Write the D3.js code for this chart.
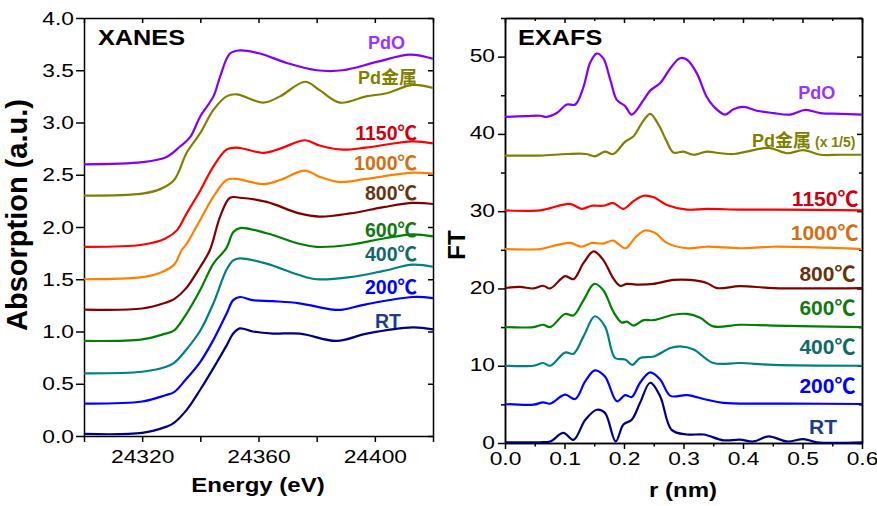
<!DOCTYPE html>
<head>
  <meta charset="utf-8">
  <script src="https://d3js.org/d3.v7.min.js"></script>
  <style>
    body { margin:0; background:#fff; }
    text { font-family: "Liberation Sans", Arial, "Noto Sans CJK SC", sans-serif; }
  </style>
</head>
<body>
<script>

// XANES spectra, [energy (eV), absorption] (offsets included)
var xanesRT = [[24300,0.02],[24320,0.03],[24328.4,0.09],[24330.7,0.12],[24335.3,0.25],[24339.9,0.44],[24344.5,0.65],[24349.1,0.87],[24351.3,0.98],[24353.6,1.03],[24358,1.00],[24365,0.98],[24374.3,0.98],[24386.9,0.91],[24397.2,0.98],[24413,1.04],[24420,1.02]];
var xanes200 = [[24300,0.31],[24320,0.33],[24328,0.39],[24331,0.42],[24335,0.54],[24340,0.71],[24344.5,0.92],[24349,1.17],[24351.3,1.30],[24353.6,1.33],[24358,1.30],[24365,1.29],[24374,1.27],[24385.6,1.21],[24389,1.21],[24397,1.26],[24413,1.33],[24420,1.32]];
var xanes400 = [[24300,0.60],[24320,0.615],[24328,0.66],[24331,0.70],[24335,0.82],[24340,1.01],[24344.5,1.27],[24349,1.59],[24351.3,1.68],[24353.6,1.70],[24362.8,1.65],[24374,1.54],[24380,1.50],[24391.5,1.52],[24403,1.58],[24413,1.64],[24420,1.62]];
var xanes600 = [[24300,0.91],[24320,0.925],[24328,0.98],[24331,1.01],[24335,1.16],[24340,1.40],[24344.5,1.65],[24349,1.80],[24351.3,1.95],[24353.6,1.99],[24362.8,1.94],[24374,1.84],[24380,1.81],[24391.5,1.83],[24403,1.89],[24413,1.93],[24420,1.91]];
var xanes800 = [[24300,1.21],[24320,1.22],[24328,1.275],[24331,1.31],[24335,1.41],[24340,1.62],[24343.3,1.78],[24346.8,2.10],[24350.2,2.28],[24353.6,2.28],[24362.8,2.24],[24374,2.13],[24381,2.10],[24391.5,2.13],[24403,2.19],[24413,2.23],[24420,2.22]];
var xanes1000 = [[24300,1.50],[24320,1.52],[24326,1.56],[24331,1.64],[24333.6,1.78],[24335.3,1.84],[24340,2.07],[24344.5,2.29],[24349,2.45],[24352.5,2.46],[24361.7,2.41],[24367.4,2.45],[24376,2.54],[24381,2.48],[24388,2.43],[24397,2.46],[24413,2.52],[24420,2.51]];
var xanes1150 = [[24300,1.81],[24320,1.83],[24328,1.89],[24332,1.97],[24335.3,2.13],[24340,2.35],[24344.5,2.58],[24349,2.74],[24352.5,2.76],[24361.7,2.71],[24367.4,2.75],[24376,2.83],[24381,2.78],[24389,2.74],[24397,2.76],[24413,2.82],[24420,2.80]];
var xanesPd = [[24300,2.30],[24320,2.32],[24326,2.36],[24331,2.45],[24335.3,2.71],[24340,2.90],[24344.5,3.12],[24349,3.25],[24352.5,3.27],[24361.7,3.19],[24367.4,3.25],[24376,3.39],[24381,3.31],[24388,3.19],[24397,3.25],[24404,3.28],[24413,3.36],[24420,3.33]];
var xanesPdO = [[24300,2.60],[24320,2.62],[24328.4,2.67],[24333,2.77],[24336.5,2.86],[24340,3.06],[24344.5,3.25],[24346.8,3.44],[24350.2,3.66],[24353.6,3.69],[24360.5,3.66],[24369.7,3.57],[24380,3.50],[24389,3.50],[24400.7,3.58],[24412,3.65],[24420,3.61]];

// EXAFS Fourier transforms, [r (nm), FT]
var exafsRT = [[0,0.1],[0.059,0.1],[0.076,0.2],[0.098,1.3],[0.115,0.4],[0.135,3.0],[0.154,4.3],[0.168,3.9],[0.186,0.2],[0.199,2.4],[0.213,3.0],[0.227,5.2],[0.244,7.8],[0.261,6.0],[0.280,1.7],[0.306,1.1],[0.334,1.1],[0.367,0.35],[0.395,0.43],[0.418,0.2],[0.443,0.86],[0.474,0.2],[0.502,0.5],[0.524,0.1],[0.6,0.1]];
var exafs200 = [[0,5.05],[0.048,4.96],[0.064,5.26],[0.076,5.09],[0.101,6.25],[0.118,5.7],[0.135,8.0],[0.151,9.4],[0.168,8.6],[0.188,5.4],[0.202,6.2],[0.213,5.95],[0.227,7.8],[0.244,9.15],[0.261,8.2],[0.278,6.1],[0.306,6.2],[0.339,5.6],[0.367,5.2],[0.423,5.1],[0.479,5.1],[0.6,5.05]];
var exafs400 = [[0,10.0],[0.048,10.0],[0.064,10.35],[0.076,10.0],[0.101,11.7],[0.115,11.55],[0.132,13.8],[0.151,16.4],[0.168,15.1],[0.185,11.0],[0.202,10.8],[0.214,10.1],[0.227,11.0],[0.250,11.2],[0.278,12.3],[0.294,12.5],[0.317,12.1],[0.350,10.35],[0.395,10.35],[0.451,10.1],[0.6,10.0]];
var exafs600 = [[0,15.0],[0.048,15.0],[0.064,15.3],[0.076,15.0],[0.101,16.7],[0.115,16.5],[0.132,18.5],[0.150,20.6],[0.165,19.8],[0.182,17.0],[0.196,15.6],[0.205,15.7],[0.216,15.2],[0.233,15.9],[0.250,15.9],[0.283,16.6],[0.306,16.7],[0.328,16.2],[0.350,15.1],[0.395,15.3],[0.451,15.2],[0.6,15.0]];
var exafs800 = [[0,20.05],[0.025,20.2],[0.048,20.0],[0.064,20.35],[0.076,20.0],[0.101,21.6],[0.115,21.2],[0.132,23.3],[0.149,24.8],[0.165,23.7],[0.182,21.3],[0.193,20.35],[0.205,20.6],[0.221,20.5],[0.250,20.6],[0.283,21.1],[0.311,21.1],[0.339,20.7],[0.356,20.05],[0.395,20.3],[0.451,20.05],[0.6,20.05]];
var exafs1000 = [[0,25.1],[0.059,25.1],[0.076,25.4],[0.109,25.9],[0.129,25.4],[0.146,25.9],[0.165,25.8],[0.182,26.2],[0.202,25.2],[0.219,26.6],[0.235,27.5],[0.252,27.2],[0.272,25.9],[0.306,25.2],[0.339,25.4],[0.395,25.2],[0.451,25.4],[0.6,25.1]];
var exafs1150 = [[0,30.1],[0.059,30.1],[0.076,30.4],[0.109,30.95],[0.129,30.3],[0.146,30.7],[0.165,30.7],[0.182,31.05],[0.199,30.3],[0.216,31.3],[0.233,32.0],[0.250,31.8],[0.272,30.8],[0.306,30.2],[0.339,30.3],[0.395,30.2],[0.451,30.2],[0.6,30.1]];
var exafsPd = [[0,37.2],[0.059,37.2],[0.104,37.4],[0.137,37.4],[0.151,37.1],[0.168,37.7],[0.182,37.4],[0.202,39.0],[0.216,39.7],[0.230,41.4],[0.244,42.6],[0.258,41.2],[0.272,39.0],[0.283,37.6],[0.300,37.7],[0.317,37.3],[0.339,37.7],[0.362,37.5],[0.384,37.4],[0.406,37.7],[0.443,38.2],[0.474,37.5],[0.502,37.9],[0.530,37.3],[0.563,37.3],[0.6,37.3]];
var exafsPdO = [[0,42.2],[0.036,42.3],[0.059,42.35],[0.070,42.2],[0.087,42.7],[0.104,43.8],[0.118,43.8],[0.132,46.1],[0.143,49.2],[0.154,50.4],[0.165,49.8],[0.177,47.0],[0.188,44.4],[0.202,43.6],[0.213,42.5],[0.233,44.4],[0.244,45.6],[0.261,46.6],[0.278,48.5],[0.294,49.8],[0.306,49.6],[0.322,47.9],[0.339,44.8],[0.350,43.6],[0.370,42.5],[0.384,43.2],[0.401,43.5],[0.423,43.0],[0.451,42.7],[0.479,42.5],[0.505,43.1],[0.530,42.7],[0.563,42.6],[0.6,42.5]];

var sampleNames = ["RT", "200℃", "400℃", "600℃", "800℃", "1000℃", "1150℃", "Pd金属", "PdO"];
var xanesTicksX = [24300, 24320, 24340, 24360, 24380, 24400, 24420];
var xanesTicksY = [0, 0.5, 1.0, 1.5, 2.0, 2.5, 3.0, 3.5, 4.0];
var exafsTicksX = [0, 0.1, 0.2, 0.3, 0.4, 0.5, 0.6];
var exafsMinorX = [0.05, 0.15, 0.25, 0.35, 0.45, 0.55];
var exafsTicksY = [0, 10, 20, 30, 40, 50];
var exafsMinorY = [5, 15, 25, 35, 45, 55];
// where each name sits, in data units of its panel (right end of the text)
var xanesLabelAt = [[24409,1.10],[24414.5,1.43],[24414.5,1.74],[24414.5,1.97],[24414.5,2.33],[24414.5,2.61],[24414.5,2.90],[24414.5,3.43],[24410.4,3.77]];
var exafsLabelAt = [[0.558,2.1],[0.589,7.4],[0.589,12.5],[0.589,17.5],[0.589,22.0],[0.594,27.2],[0.594,31.7],[0.589,39.2],[0.555,45.3]];

var lineColors  = ["#000080","#0000ff","#008080","#008000","#800000","#ff8000","#ff0000","#808000","#8000ff"];
var labelColors = ["#1c3c8c","#0000ff","#116868","#127812","#663311","#d07014","#cc0010","#808000","#9933ff"];

var xanesSeries = [xanesRT, xanes200, xanes400, xanes600, xanes800, xanes1000, xanes1150, xanesPd, xanesPdO];
var exafsSeries = [exafsRT, exafs200, exafs400, exafs600, exafs800, exafs1000, exafs1150, exafsPd, exafsPdO];

var W = 877, H = 506, SX = 1.2;

var svg = d3.select("body").append("svg")
    .attr("width", W)
    .attr("height", H);

var xL = d3.scaleLinear().domain([24300, 24420]).range([84, 433]);
var yL = d3.scaleLinear().domain([0, 4]).range([436, 18]);
var xR = d3.scaleLinear().domain([0, 0.6]).range([505, 862]);
var yR = d3.scaleLinear().domain([0, 55]).range([443, 18]);

// bold text, optionally stretched sideways like the picture
function label(x, y, s, size, color, anchor, sx) {
  return svg.append("text")
    .attr("transform", "translate(" + x + "," + y + ") scale(" + (sx || 1) + ",1)")
    .attr("text-anchor", anchor || "start")
    .attr("font-size", size)
    .attr("font-weight", "bold")
    .attr("fill", color || "#000")
    .text(s);
}

function styleAxis(g) {
  g.selectAll("path, line").attr("stroke", "#000").attr("stroke-width", 1.5);
  g.selectAll("text").attr("fill", "#000").attr("font-size", 19)
    .attr("font-family", '"Liberation Sans", Arial, sans-serif');
}

function addAxis(axis, tx, ty) {
  var g = svg.append("g").attr("transform", "translate(" + tx + "," + ty + ")").call(axis);
  styleAxis(g);
  return g;
}

// ---------- left panel: XANES ----------
var gb = addAxis(d3.axisBottom(xL).tickValues(xanesTicksX).tickSize(6).tickSizeOuter(0)
  .tickFormat(function(d){ return d % 40 === 0 ? d : ""; }), 0, 436);
gb.selectAll(".tick text").attr("y", 0).attr("dy", 0).attr("transform", "translate(0,27) scale(" + SX + ",1)");

var gl = addAxis(d3.axisLeft(yL).tickValues(xanesTicksY).tickSize(8).tickSizeOuter(0).tickFormat(d3.format(".1f")), 84, 0);
gl.selectAll(".tick text").attr("x", 0).attr("transform", "translate(-10,0) scale(" + SX + ",1)");

addAxis(d3.axisTop(xL).tickValues(xanesTicksX).tickSize(-5).tickSizeOuter(0).tickFormat(""), 0, 18);
addAxis(d3.axisRight(yL).tickValues(xanesTicksY).tickSize(-5).tickSizeOuter(0).tickFormat(""), 433, 0);

var lineL = d3.line().x(function(d){ return xL(d[0]); }).y(function(d){ return yL(d[1]); })
  .curve(d3.curveCatmullRom.alpha(0.5));

svg.append("g").selectAll("path").data(xanesSeries).enter().append("path")
  .attr("fill", "none")
  .attr("stroke", function(d, i){ return lineColors[i]; })
  .attr("stroke-width", 2.2)
  .attr("d", lineL);

sampleNames.forEach(function(n, i) {
  var p = xanesLabelAt[i];
  var size = (i >= 7) ? 18 : 19.5;
  label(xL(p[0]), yL(p[1]), n, size, labelColors[i], "end").attr("dy", "0.36em");
});

label(98, 45, "XANES", 22, "#000", "start", 1.15);
label(258, 492, "Energy (eV)", 20, "#000", "middle", SX);
svg.append("text")
  .attr("transform", "translate(27,215) rotate(-90)")
  .attr("text-anchor", "middle")
  .attr("font-size", 29).attr("font-weight", "bold")
  .text("Absorption (a.u.)");

// ---------- right panel: EXAFS ----------
var rb = addAxis(d3.axisBottom(xR).tickValues(exafsTicksX).tickSize(6).tickSizeOuter(0).tickFormat(d3.format(".1f")), 0, 443);
rb.selectAll(".tick text").attr("y", 0).attr("dy", 0).attr("transform", "translate(0,22) scale(" + SX + ",1)");
addAxis(d3.axisBottom(xR).tickValues(exafsMinorX).tickSize(3.5).tickSizeOuter(0).tickFormat(""), 0, 443);

var rl = addAxis(d3.axisLeft(yR).tickValues(exafsTicksY).tickSize(7).tickSizeOuter(0).tickFormat(d3.format("d")), 505, 0);
rl.selectAll(".tick text").attr("x", 0).attr("transform", "translate(-10,-1) scale(" + SX + ",1)");
addAxis(d3.axisLeft(yR).tickValues(exafsMinorY).tickSize(4).tickSizeOuter(0).tickFormat(""), 505, 0);

addAxis(d3.axisTop(xR).tickValues(exafsTicksX).tickSize(-5).tickSizeOuter(0).tickFormat(""), 0, 18);
addAxis(d3.axisTop(xR).tickValues(exafsMinorX).tickSize(-3).tickSizeOuter(0).tickFormat(""), 0, 18);
addAxis(d3.axisRight(yR).tickValues(exafsTicksY).tickSize(-5).tickSizeOuter(0).tickFormat(""), 862, 0);
addAxis(d3.axisRight(yR).tickValues(exafsMinorY).tickSize(-3).tickSizeOuter(0).tickFormat(""), 862, 0);

var lineR = d3.line().x(function(d){ return xR(d[0]); }).y(function(d){ return yR(d[1]); })
  .curve(d3.curveCatmullRom.alpha(0.5));

svg.append("g").selectAll("path").data(exafsSeries).enter().append("path")
  .attr("fill", "none")
  .attr("stroke", function(d, i){ return lineColors[i]; })
  .attr("stroke-width", 2.2)
  .attr("d", lineR);

sampleNames.forEach(function(n, i) {
  var p = exafsLabelAt[i];
  if (i === 7) {
    var t = label(xR(p[0]), yR(p[1]), n, 18, labelColors[i], "end").attr("dy", "0.36em");
    t.append("tspan").attr("font-size", 14).text(" (x 1/5)");
    return;
  }
  var size = (i === 8) ? 18 : 21;
  label(xR(p[0]), yR(p[1]), n, size, labelColors[i], "end").attr("dy", "0.36em");
});

label(518, 45, "EXAFS", 22, "#000", "start", 1.15);
label(683, 497, "r (nm)", 20, "#000", "middle", SX);
svg.append("text")
  .attr("transform", "translate(465,245) rotate(-90)")
  .attr("text-anchor", "middle")
  .attr("font-size", 24).attr("font-weight", "bold")
  .text("FT");

</script>
</body>
